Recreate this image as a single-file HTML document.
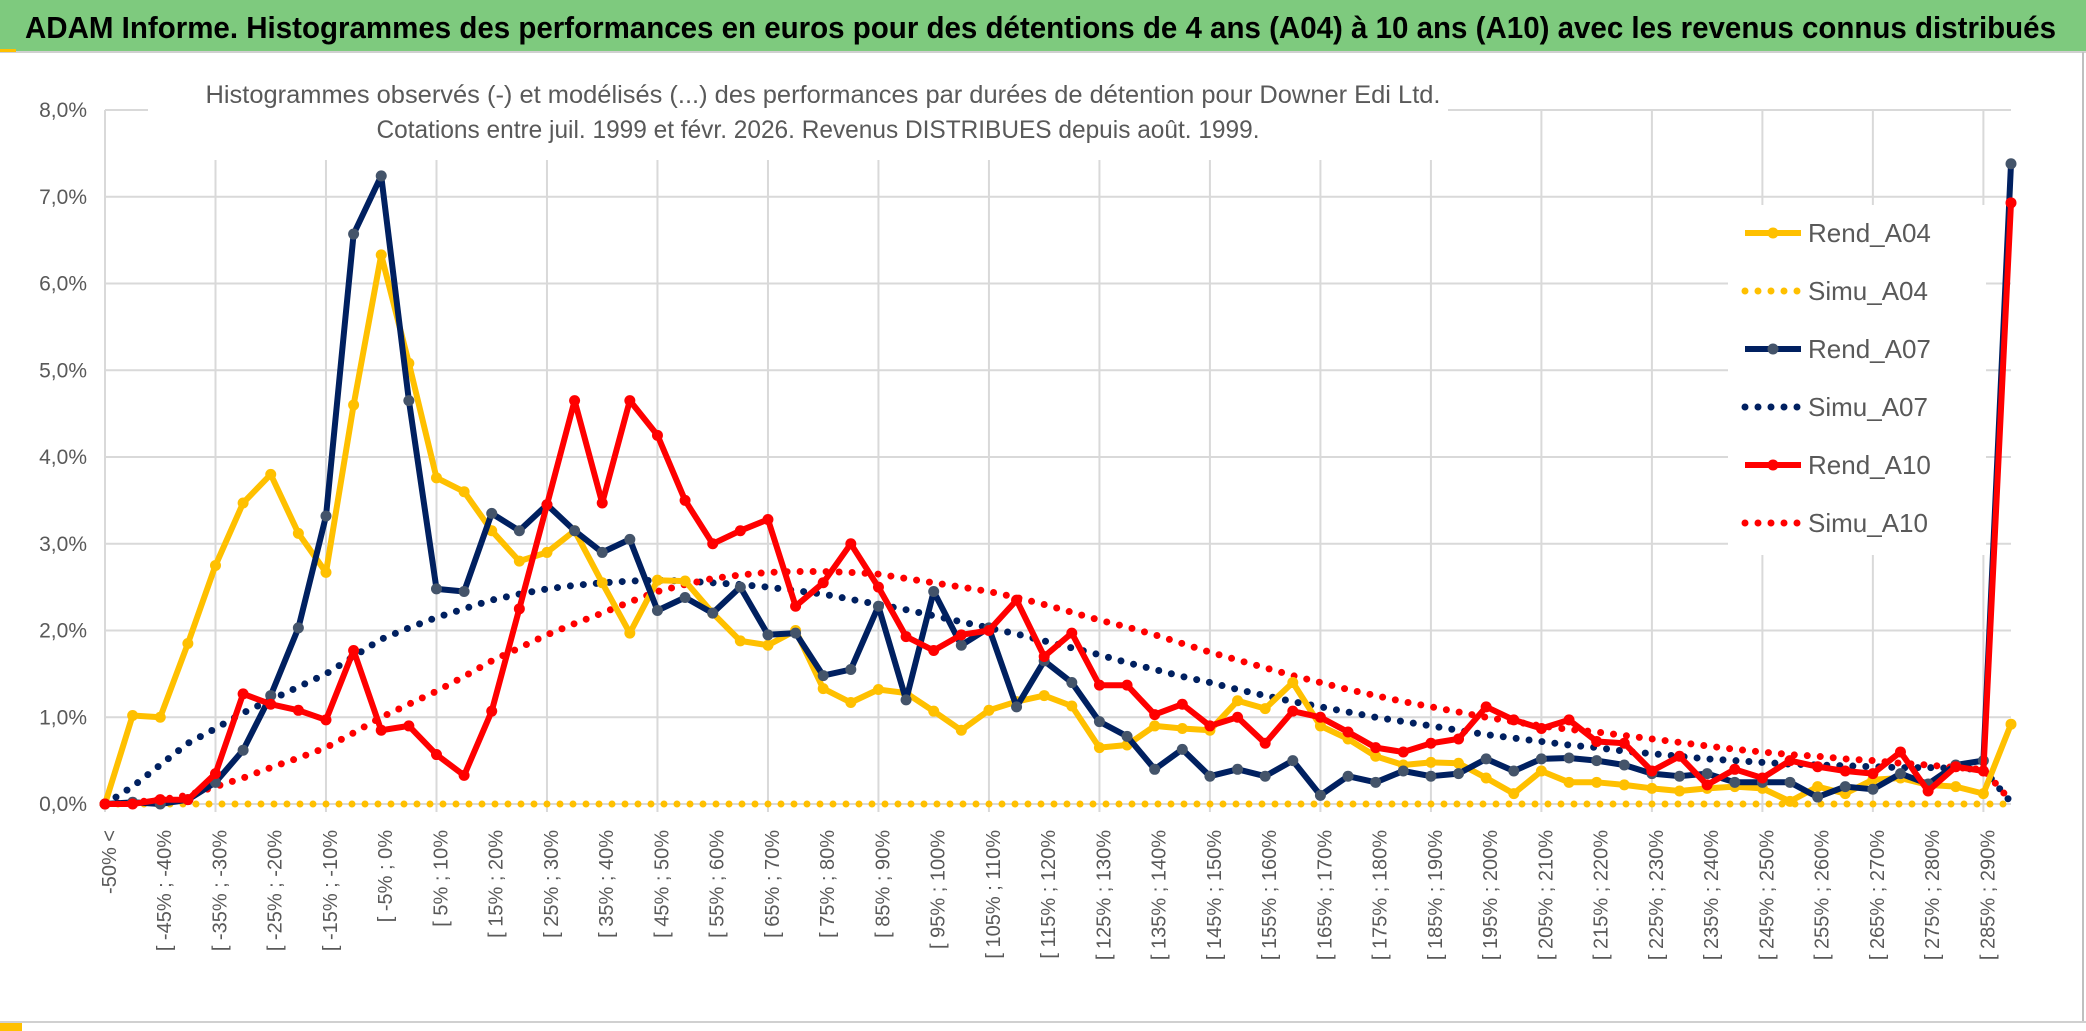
<!DOCTYPE html>
<html><head><meta charset="utf-8"><style>
html,body{margin:0;padding:0;background:#fff;}
svg{display:block;font-family:"Liberation Sans",sans-serif;}
</style></head><body>
<svg id="chart" width="2086" height="1031" viewBox="0 0 2086 1031">
<rect x="0" y="0" width="2086" height="1031" fill="#fff"/>
<rect x="0" y="0" width="2086" height="51" fill="#7ECA7E"/>
<line x1="0" y1="52" x2="2086" y2="52" stroke="#d0d0d0" stroke-width="2"/>
<rect x="0" y="49" width="16" height="3" fill="#FFC000"/>
<text x="25" y="38" font-size="31" font-weight="bold" fill="#000" textLength="2031" lengthAdjust="spacingAndGlyphs">ADAM Informe. Histogrammes des performances en euros pour des détentions de 4 ans (A04) à 10 ans (A10) avec les revenus connus distribués</text>
<line x1="2083" y1="52" x2="2083" y2="1022" stroke="#bfbfbf" stroke-width="2"/>
<line x1="0" y1="1022" x2="2086" y2="1022" stroke="#d0d0d0" stroke-width="2"/>
<rect x="0" y="1023" width="22" height="8" fill="#FFC000"/>
<g id="grid"></g>
<g id="ylabels"></g>
<g id="xlabels"></g>
<rect x="148" y="58" width="1300" height="102" fill="#fff"/>
<text x="823" y="103" font-size="25" fill="#595959" text-anchor="middle" textLength="1235" lengthAdjust="spacingAndGlyphs">Histogrammes observés (-) et modélisés (...) des performances par durées de détention pour Downer Edi Ltd.</text>
<text x="818" y="138" font-size="25" fill="#595959" text-anchor="middle" textLength="883" lengthAdjust="spacingAndGlyphs">Cotations entre juil. 1999 et févr. 2026. Revenus DISTRIBUES depuis août. 1999.</text>
<g id="series"></g>
<g id="legend"></g>
</svg>
<script>
const rendA04=[0,1.02,1.0,1.85,2.75,3.47,3.8,3.12,2.67,4.6,6.33,5.08,3.76,3.6,3.15,2.8,2.9,3.15,2.55,1.97,2.58,2.57,2.2,1.88,1.83,2.0,1.33,1.17,1.32,1.28,1.07,0.85,1.08,1.18,1.25,1.13,0.65,0.68,0.9,0.87,0.85,1.19,1.1,1.4,0.9,0.75,0.55,0.45,0.48,0.47,0.3,0.12,0.38,0.25,0.25,0.22,0.18,0.15,0.18,0.2,0.18,0.03,0.2,0.12,0.28,0.3,0.22,0.2,0.12,0.92];
const rendA07=[0,0.02,0.0,0.05,0.25,0.62,1.25,2.03,3.32,6.57,7.24,4.65,2.48,2.45,3.35,3.15,3.45,3.15,2.9,3.05,2.23,2.38,2.2,2.5,1.95,1.97,1.48,1.55,2.28,1.2,2.45,1.83,2.03,1.12,1.65,1.4,0.95,0.78,0.4,0.63,0.32,0.4,0.32,0.5,0.1,0.32,0.25,0.38,0.32,0.35,0.52,0.38,0.52,0.53,0.5,0.45,0.35,0.32,0.35,0.25,0.25,0.25,0.08,0.2,0.17,0.35,0.23,0.45,0.5,7.38];
const rendA10=[0,0.0,0.05,0.05,0.35,1.27,1.15,1.08,0.97,1.77,0.85,0.9,0.57,0.33,1.07,2.25,3.45,4.65,3.47,4.65,4.25,3.5,3.0,3.15,3.28,2.28,2.55,3.0,2.5,1.93,1.77,1.95,2.0,2.35,1.7,1.97,1.37,1.37,1.03,1.15,0.9,1.0,0.7,1.07,1.0,0.83,0.65,0.6,0.7,0.75,1.12,0.97,0.87,0.97,0.72,0.7,0.38,0.55,0.22,0.4,0.3,0.5,0.43,0.38,0.35,0.6,0.15,0.43,0.38,6.93];
const simuA07=[0,0.2,0.45,0.7,0.87,1.05,1.2,1.35,1.5,1.7,1.9,2.03,2.15,2.25,2.35,2.42,2.48,2.52,2.55,2.57,2.58,2.57,2.55,2.53,2.5,2.46,2.42,2.36,2.3,2.24,2.17,2.1,2.03,1.96,1.88,1.8,1.72,1.63,1.55,1.47,1.4,1.32,1.25,1.18,1.12,1.06,1.0,0.95,0.9,0.85,0.8,0.76,0.72,0.68,0.65,0.61,0.58,0.55,0.52,0.5,0.48,0.46,0.45,0.44,0.43,0.42,0.42,0.41,0.4,0.02];
const simuA10=[0,0.02,0.05,0.1,0.2,0.3,0.42,0.53,0.65,0.82,1.0,1.15,1.3,1.47,1.65,1.8,1.95,2.08,2.2,2.33,2.45,2.53,2.6,2.64,2.67,2.68,2.68,2.67,2.65,2.6,2.55,2.5,2.45,2.38,2.3,2.21,2.12,2.04,1.95,1.85,1.75,1.66,1.57,1.48,1.4,1.32,1.25,1.18,1.12,1.06,1.0,0.95,0.9,0.86,0.83,0.79,0.75,0.71,0.67,0.63,0.6,0.57,0.55,0.52,0.5,0.47,0.45,0.42,0.4,0.03];
const simuA04=[0,0,0,0,0,0,0,0,0,0,0,0,0,0,0,0,0,0,0,0,0,0,0,0,0,0,0,0,0,0,0,0,0,0,0,0,0,0,0,0,0,0,0,0,0,0,0,0,0,0,0,0,0,0,0,0,0,0,0,0,0,0,0,0,0,0,0,0,0,0];
const yTicks=[0,1,2,3,4,5,6,7,8];
const yTickLabels=["0,0%","1,0%","2,0%","3,0%","4,0%","5,0%","6,0%","7,0%","8,0%"];
const categories=["-50% <"];
for(let b=-50;b<295;b+=5){categories.push("[ "+b+"% ; "+(b+5)+"%");}

const NS="http://www.w3.org/2000/svg";
const X0=105,X1=2011,Y0=804,YTOP=110,YMAX=8;
const n=categories.length;
function xs(i){return X0+(X1-X0)*i/(n-1);}
function ys(v){return Y0-(Y0-YTOP)*v/YMAX;}
function mk(tag,attrs,parent){const e=document.createElementNS(NS,tag);for(const k in attrs)e.setAttribute(k,attrs[k]);parent.appendChild(e);return e;}

const grid=document.getElementById('grid');
yTicks.forEach((t,k)=>{
  const l=mk('line',{x1:X0,x2:X1,y1:ys(t),y2:ys(t),stroke:'#d9d9d9','stroke-width':2},grid);
  
  
  const tx=mk('text',{x:87,y:ys(t)+7,'font-size':21,fill:'#595959','text-anchor':'end'},document.getElementById('ylabels'));
  tx.textContent=yTickLabels[k];
  
  
});
for(let i=0;i<n;i+=4){
  const l=mk('line',{x1:xs(i),x2:xs(i),y1:YTOP,y2:Y0+8,stroke:'#d9d9d9','stroke-width':2},grid);
  
  
}
const xl=document.getElementById('xlabels');
for(let i=0;i<n;i+=2){
  const x=xs(i)+11,y=830;
  const t=mk('text',{x:x,y:y,'font-size':20,fill:'#595959','text-anchor':'end',transform:'rotate(-90 '+x+' '+y+')'},xl);
  t.textContent=categories[i];
  
  
}
const sg=document.getElementById('series');
function pts(arr){return arr.map((v,i)=>xs(i).toFixed(1)+','+ys(v).toFixed(1)).join(' ');}
function dotted(arr,color,name){
  const p=mk('polyline',{points:pts(arr),fill:'none',stroke:color,'stroke-width':7,'stroke-linecap':'round','stroke-dasharray':'0 13'},sg);
  
  
}
function solid(arr,color,mcolor,name){
  const g=mk('g',{},sg);
  
  
  mk('polyline',{points:pts(arr),fill:'none',stroke:color,'stroke-width':6,'stroke-linejoin':'round'},g);
  arr.forEach((v,i)=>{
    const c=mk('circle',{cx:xs(i),cy:ys(v),r:5.5,fill:mcolor},g);
    
    
  });
}
dotted(simuA04,'#FFC000','simu-a04-line');
dotted(simuA07,'#002060','simu-a07-line');
dotted(simuA10,'#FF0000','simu-a10-line');
solid(rendA04,'#FFC000','#FFC000','rend-a04-line');
solid(rendA07,'#002060','#44546A','rend-a07-line');
solid(rendA10,'#FF0000','#FF0000','rend-a10-line');

const lg=document.getElementById('legend');
mk('rect',{x:1728,y:205,width:258,height:350,fill:'#fff'},lg);
const entries=[["Rend_A04",'#FFC000',false],["Simu_A04",'#FFC000',true],["Rend_A07",'#002060',false],["Simu_A07",'#002060',true],["Rend_A10",'#FF0000',false],["Simu_A10",'#FF0000',true]];
entries.forEach((e,k)=>{
  const y=233+k*58;
  const g=mk('g',{},lg);
  
  
  if(e[2]){mk('line',{x1:1745,x2:1801,y1:y,y2:y,stroke:e[1],'stroke-width':7,'stroke-linecap':'round','stroke-dasharray':'0 13'},g);}
  else{mk('line',{x1:1745,x2:1801,y1:y,y2:y,stroke:e[1],'stroke-width':6},g);
       mk('circle',{cx:1773,cy:y,r:5.5,fill:e[0]==="Rend_A07"?'#44546A':e[1]},g);}
  const t=mk('text',{x:1808,y:y+9,'font-size':26,fill:'#595959'},g);
  t.textContent=e[0];
});
</script>
</body></html>
